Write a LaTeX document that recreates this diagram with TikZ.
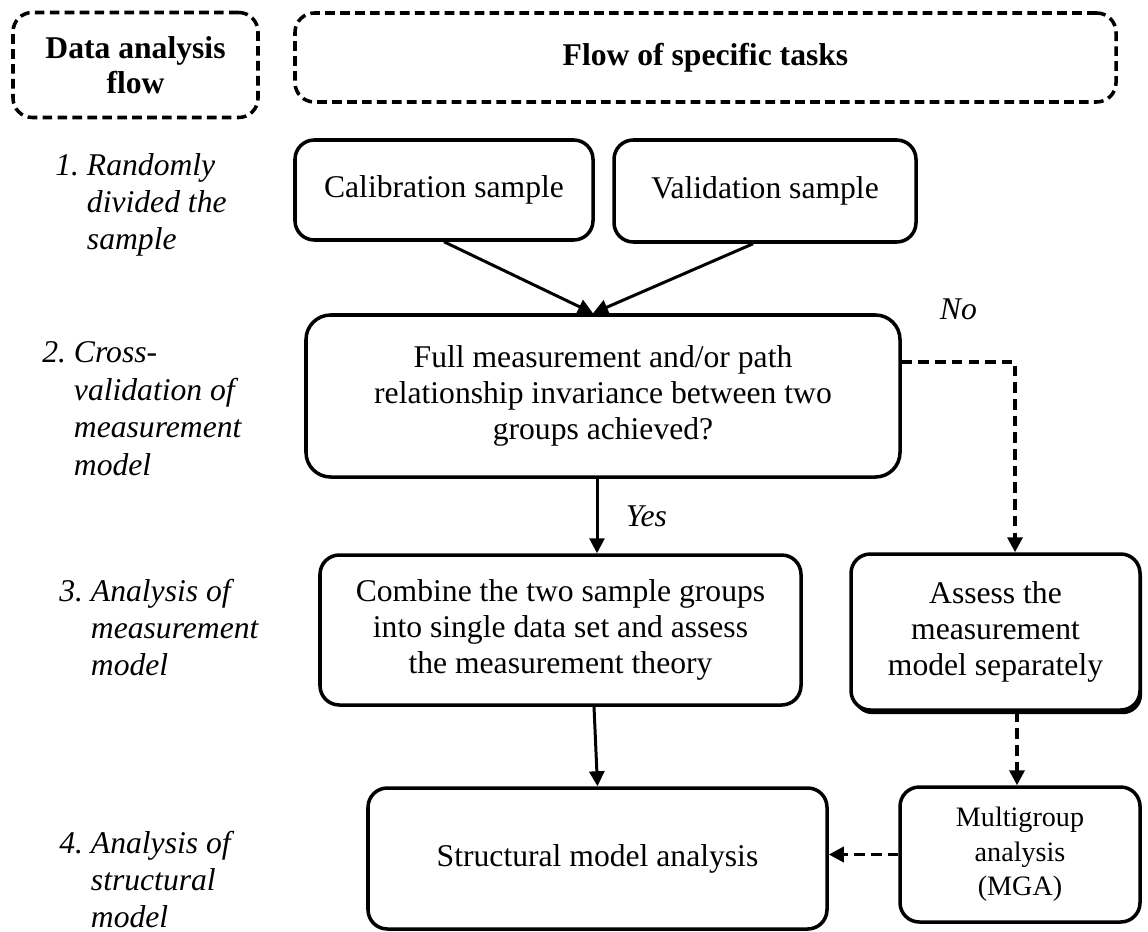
\documentclass[tikz,border=0pt]{standalone}
\usepackage{fontspec}
\setmainfont{Liberation Serif}
\usetikzlibrary{arrows.meta,shadows}

\begin{document}
\begin{tikzpicture}[
  >={Triangle[length=3mm,width=3mm]},
  every node/.style={font=\fontsize{18}{20.7}\selectfont, align=center},
  headbox/.style={rectangle, draw=black, line width=2pt, dash pattern=on 5.5pt off 3pt, rounded corners=11pt, font=\fontsize{18}{20}\selectfont\bfseries},
  taskbox/.style={rectangle, draw=black, fill=white, line width=2pt, rounded corners=11pt},
  steplabel/.style={anchor=west, inner sep=0pt, align=left, font=\fontsize{18}{21.3}\selectfont\itshape},
  answer/.style={font=\fontsize{18}{20.7}\selectfont\itshape},
  link/.style={->, line width=1.7pt},
  nolink/.style={->, line width=2pt, dash pattern=on 6pt off 3.5pt},
]
\useasboundingbox (0,0) rectangle (22.96,-18.62);

% ---- headings ----
\node[headbox, minimum width=4.9cm, minimum height=2.1cm] (flowhead) at (2.71,-1.30) {Data analysis\\flow};
\node[headbox, minimum width=16.42cm, minimum height=1.78cm] (taskhead) at (14.11,-1.15) {Flow of specific tasks};

% ---- steps of the analysis ----
\node[steplabel] (s1) at (1.10,-4.10) {\begin{tabular}{@{}l@{\ }l@{}}1. & Randomly\\ & divided the\\ & sample\end{tabular}};
\node[steplabel] (s2) at (0.84,-8.23) {\begin{tabular}{@{}l@{\ }l@{}}2. & Cross-\\ & validation of\\ & measurement\\ & model\end{tabular}};
\node[steplabel] (s3) at (1.18,-12.62) {\begin{tabular}{@{}l@{\ }l@{}}3. & Analysis of\\ & measurement\\ & model\end{tabular}};
\node[steplabel] (s4) at (1.18,-17.66) {\begin{tabular}{@{}l@{\ }l@{}}4. & Analysis of\\ & structural\\ & model\end{tabular}};

% ---- level 1: samples ----
\node[taskbox, minimum width=5.96cm, minimum height=2.0cm] (calib) at (8.88,-3.80) {Calibration sample};
\node[taskbox, minimum width=6.04cm, minimum height=2.04cm] (valid) at (15.30,-3.82) {Validation sample};

% ---- level 2: invariance test ----
\node[taskbox, rounded corners=14pt, minimum width=11.88cm, minimum height=3.24cm] (invar) at (12.06,-7.92)
  {Full measurement and/or path\\relationship invariance between two\\groups achieved?};

% ---- level 3 ----
\node[taskbox, minimum width=9.62cm, minimum height=3.0cm] (combine) at (11.21,-12.60)
  {Combine the two sample groups\\into single data set and assess\\the measurement theory};
\node[taskbox, minimum width=5.78cm, minimum height=3.12cm,
  drop shadow={shadow xshift=1.2pt, shadow yshift=-2.4pt, fill=black, opacity=1}] (assess) at (19.91,-12.64)
  {Assess the\\measurement\\model separately};

% ---- level 4 ----
\node[taskbox, minimum width=9.18cm, minimum height=2.82cm] (struct) at (11.95,-17.17) {Structural model analysis};
\node[taskbox, minimum width=4.8cm, minimum height=2.7cm, font=\fontsize{16}{19.6}\selectfont] (mga) at (20.40,-17.09)
  {Multigroup\\analysis\\(MGA)};

% ---- connectors ----
\draw[link] (calib.south) -- ([xshift=-0.2cm]invar.north);
\draw[link] ([xshift=-0.24cm]valid.south) -- ([xshift=-0.2cm]invar.north);
\draw[link] ([xshift=-0.12cm]invar.south) -- ([xshift=-0.12cm]invar.south |- combine.north)
  node[midway, answer, anchor=west, xshift=0.43cm] {Yes};
\draw[nolink] ([yshift=0.68cm]invar.east) -| ([xshift=0.39cm]assess.north)
  node[pos=0.25, answer, above=0.7cm] {No};
\draw[link] ([xshift=0.67cm]combine.south) -- (struct.north);
\draw[nolink] ([xshift=0.43cm]assess.south) -- ([xshift=0.43cm]assess.south |- mga.north);
\draw[nolink] (mga.west) -- (mga.west -| struct.east);

\end{tikzpicture}
\end{document}
